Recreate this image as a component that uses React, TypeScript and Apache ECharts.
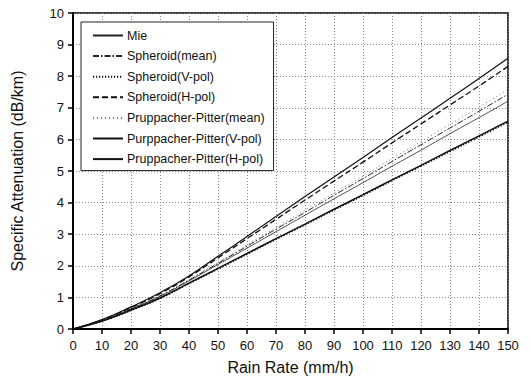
import React, { useEffect, useRef } from "react";
import * as echarts from "echarts";

const rainRates = [0, 10, 20, 30, 40, 50, 60, 70, 80, 90, 100, 110, 120, 130, 140, 150];

const mie = [0, 0.27, 0.63, 1.03, 1.52, 2.04, 2.56, 3.08, 3.6, 4.12, 4.63, 5.15, 5.66, 6.18, 6.69, 7.21];
const spheroidMean = [0, 0.27, 0.64, 1.05, 1.55, 2.08, 2.62, 3.16, 3.69, 4.23, 4.76, 5.3, 5.83, 6.36, 6.89, 7.43];
const spheroidV = [0, 0.25, 0.59, 0.97, 1.44, 1.9, 2.37, 2.84, 3.3, 3.77, 4.23, 4.7, 5.16, 5.62, 6.08, 6.55];
const spheroidH = [0, 0.29, 0.68, 1.12, 1.65, 2.25, 2.86, 3.47, 4.08, 4.68, 5.28, 5.89, 6.49, 7.09, 7.69, 8.31];
const ppMean = [0, 0.28, 0.65, 1.06, 1.57, 2.11, 2.66, 3.21, 3.76, 4.3, 4.84, 5.39, 5.93, 6.48, 7.02, 7.58];
const ppV = [0, 0.25, 0.6, 0.98, 1.45, 1.92, 2.39, 2.86, 3.32, 3.79, 4.25, 4.72, 5.18, 5.65, 6.11, 6.58];
const ppH = [0, 0.3, 0.7, 1.15, 1.68, 2.3, 2.93, 3.56, 4.19, 4.81, 5.43, 6.06, 6.68, 7.3, 7.93, 8.57];

const seriesNames = [
  "Mie",
  "Spheroid(mean)",
  "Spheroid(V-pol)",
  "Spheroid(H-pol)",
  "Pruppacher-Pitter(mean)",
  "Purppacher-Pitter(V-pol)",
  "Pruppacher-Pitter(H-pol)",
];

const xTicks = { min: 0, max: 150, interval: 10 };
const yTicks = { min: 0, max: 10, interval: 1 };

const FONT = "'Liberation Sans', Arial, Helvetica, sans-serif";

export default function App() {
  const ref = useRef<HTMLDivElement>(null);

  useEffect(() => {
    if (!ref.current) return;
    const chart = echarts.init(ref.current, undefined, { renderer: "svg" });

    const pairs = (vals: number[]) => rainRates.map((r, i) => [r, vals[i]]);
    const values = [mie, spheroidMean, spheroidV, spheroidH, ppMean, ppV, ppH];
    const styles: any[] = [
      { color: "#222", width: 0.8, type: "solid" },
      { color: "#222", width: 1, type: [6, 2, 1.5, 2] },
      { color: "#111", width: 1.8, type: [1.2, 1.8] },
      { color: "#111", width: 1.3, type: [6, 3] },
      { color: "#777", width: 1, type: [1, 3] },
      { color: "#111", width: 1.5, type: "solid" },
      { color: "#111", width: 1.2, type: "solid" },
    ];

    const series = seriesNames.map((name, i) => ({
      name,
      type: "line",
      data: pairs(values[i]),
      symbol: "none",
      smooth: true,
      lineStyle: styles[i],
      itemStyle: { color: styles[i].color },
      z: 3,
    }));

    chart.setOption({
      animation: false,
      backgroundColor: "#fff",
      grid: {
        left: 73,
        right: 23,
        top: 13,
        bottom: 56,
        show: true,
        borderColor: "#000",
        borderWidth: 1.5,
        containLabel: false,
      },
      legend: {
        orient: "vertical",
        left: 81,
        top: 22,
        padding: [7, 9, 5, 11],
        itemWidth: 30,
        itemHeight: 12,
        itemGap: 7.6,
        borderColor: "#222",
        borderWidth: 1,
        backgroundColor: "#fff",
        itemStyle: { opacity: 0 },
        textStyle: { fontFamily: FONT, fontSize: 12.5, color: "#111", padding: [0, 0, 0, -1] },
        data: seriesNames,
      },
      xAxis: {
        type: "value",
        min: xTicks.min,
        max: xTicks.max,
        interval: xTicks.interval,
        name: "Rain Rate (mm/h)",
        nameLocation: "middle",
        nameGap: 30,
        nameTextStyle: { fontFamily: FONT, fontSize: 16, color: "#111" },
        axisLine: { show: true, lineStyle: { color: "#000", width: 2 } },
        axisTick: { show: true, inside: false, length: 5, lineStyle: { color: "#000", width: 1.5 } },
        axisLabel: { fontFamily: FONT, fontSize: 13, color: "#111", margin: 10 },
        splitLine: { show: true, lineStyle: { color: "#888", width: 1, type: [1, 2] } },
      },
      yAxis: {
        type: "value",
        min: yTicks.min,
        max: yTicks.max,
        interval: yTicks.interval,
        name: "Specific Attenuation (dB/km)",
        nameLocation: "middle",
        nameGap: 48,
        nameTextStyle: { fontFamily: FONT, fontSize: 16, color: "#111" },
        axisLine: { show: true, lineStyle: { color: "#000", width: 2 } },
        axisTick: { show: true, inside: false, length: 5, lineStyle: { color: "#000", width: 1.5 } },
        axisLabel: { fontFamily: FONT, fontSize: 13, color: "#111", margin: 9 },
        splitLine: { show: true, lineStyle: { color: "#888", width: 1, type: [1, 2] } },
      },
      series,
    });

    return () => chart.dispose();
  }, []);

  return <div ref={ref} style={{ width: 531, height: 385, position: "fixed", left: 0, top: 0 }} />;
}
